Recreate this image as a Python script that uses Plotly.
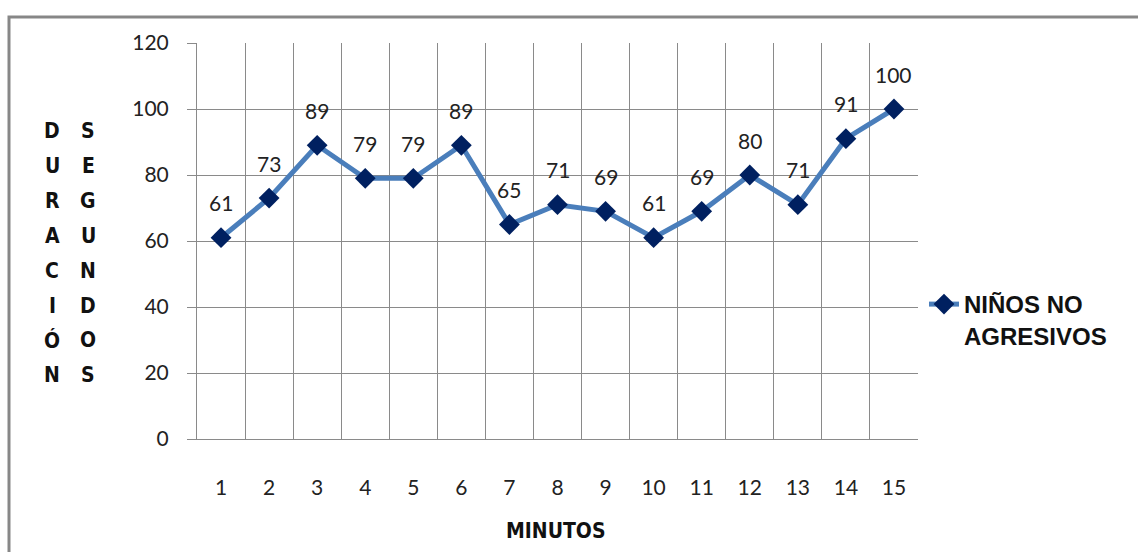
import plotly.graph_objects as go

# Duration per minute (seconds) for the non-aggressive children group
minutos = list(range(1, 16))
duracion = [61, 73, 89, 79, 79, 89, 65, 71, 69, 61, 69, 80, 71, 91, 100]
serie = "<b>NIÑOS NO<br>AGRESIVOS</b>"
y_ticks = [0, 20, 40, 60, 80, 100, 120]
titulo_y1 = "DURACIÓN"
titulo_y2 = "SEGUNDOS"
titulo_x = "MINUTOS"

W, H = 1138, 552
L, R, T, B = 197, 220, 43, 113
pw, ph = W - L - R, H - T - B


def px_x(x):
    return (x - L) / pw


def px_y(y):
    return (H - B - y) / ph


grid = "#8a8a8a"
num_font = dict(family="Lato, Open Sans, sans-serif", size=21, color="#222222")
title_font = dict(family="DejaVu Sans Condensed, Liberation Sans Narrow, sans-serif",
                  size=21, color="#111111")

fig = go.Figure()
fig.add_trace(go.Scatter(
    x=minutos, y=duracion, mode="lines+markers", name=serie,
    line=dict(color="#4a7ebb", width=5),
    marker=dict(symbol="diamond", size=16, color="#002060",
                line=dict(color="#002060", width=0)),
))

annotations = []
# value labels above each point
for m, v in zip(minutos, duracion):
    annotations.append(dict(x=m, y=v, text=str(v), showarrow=False, yshift=35,
                            font=num_font, xanchor="center", yanchor="middle"))

# stacked vertical letters for the y-axis title (two columns)
row0, step = 131, 34.9
for col_x, word in ((52, titulo_y1), (88, titulo_y2)):
    for i, ch in enumerate(word):
        annotations.append(dict(x=px_x(col_x), y=px_y(row0 + i * step), xref="paper", yref="paper",
                                text=f"<b>{ch}</b>", showarrow=False, font=title_font,
                                xanchor="center", yanchor="middle"))

annotations.append(dict(x=px_x(556), y=px_y(531), xref="paper", yref="paper",
                        text=f"<b>{titulo_x}</b>", showarrow=False, font=title_font,
                        xanchor="center", yanchor="middle"))

fig.update_layout(
    width=W, height=H,
    margin=dict(l=L, r=R, t=T, b=B),
    paper_bgcolor="white", plot_bgcolor="white",
    showlegend=True,
    legend=dict(x=px_x(924), y=px_y(282), xanchor="left", yanchor="top",
                valign="top", bgcolor="rgba(0,0,0,0)",
                font=dict(family="Liberation Sans, Arial, sans-serif", size=24, color="#111111")),
    annotations=annotations,
    shapes=[dict(type="rect", xref="paper", yref="paper",
                 x0=px_x(9), x1=px_x(W + 20), y0=px_y(H + 20), y1=px_y(17),
                 line=dict(color="#878787", width=3), fillcolor="rgba(0,0,0,0)", layer="below")],
)

fig.update_xaxes(
    range=[0.5, 15.5], tickvals=minutos, ticktext=[str(m) for m in minutos],
    showgrid=False, zeroline=False, showline=True, linecolor=grid, linewidth=1,
    ticks="", ticklabelstandoff=30, tickfont=num_font,
    minor=dict(tickvals=[m - 0.5 for m in minutos] + [15.5], showgrid=True,
               gridcolor=grid, gridwidth=1, ticks=""),
)
fig.update_yaxes(
    range=[0, 120], tickvals=y_ticks, showgrid=True, gridcolor=grid, gridwidth=1,
    zeroline=False, showline=True, linecolor=grid, linewidth=1,
    ticks="outside", ticklen=9, tickcolor=grid, ticklabelstandoff=14, tickfont=num_font,
)

fig.write_html("out.html")
